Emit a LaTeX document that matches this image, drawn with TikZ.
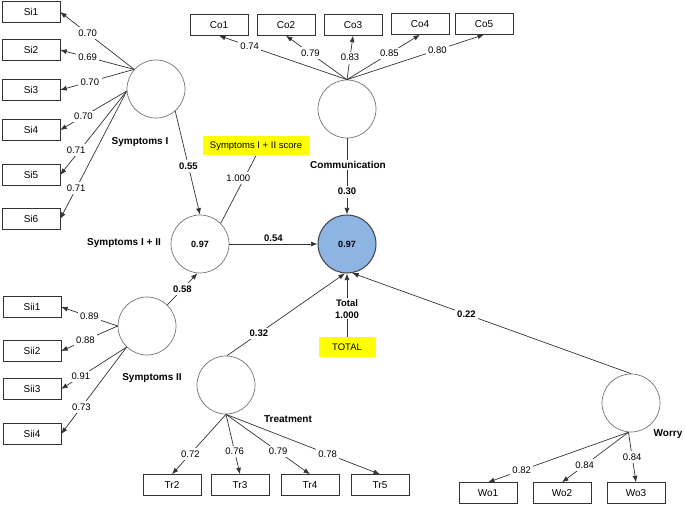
\documentclass[tikz,border=0pt]{standalone}
\usepackage{fontspec}
\setmainfont{Liberation Sans}
\usetikzlibrary{arrows.meta}
\definecolor{total-blue}{HTML}{8DB4E2}
\definecolor{score-yellow}{HTML}{FFFF00}
\tikzset{
    obs-box/.style = {draw=black!80, fill=white, thin, rectangle, minimum width=58pt, minimum height=21pt, inner sep=0pt, font=\fontsize{10}{12}\selectfont},
    latent/.style = {draw=black!55, fill=white, line width=0.7pt, circle, minimum size=58pt, inner sep=0pt, font=\fontsize{9}{11}\selectfont\bfseries},
    latent-total/.style = {latent, draw=black!75, fill=total-blue, line width=1pt},
    score-box/.style = {fill=score-yellow, rectangle, inner sep=0pt, font=\fontsize{9.5}{11}\selectfont},
    latent-name/.style = {fill=white, inner sep=1pt, font=\fontsize{10}{12}\selectfont\bfseries},
    load/.style = {fill=white, inner sep=2.5pt, font=\fontsize{9.5}{11}\selectfont},
    path-coef/.style = {load, font=\fontsize{9.5}{11}\selectfont\bfseries},
    link/.style = {draw=black!80, line width=0.7pt, -{Latex[length=6.5pt,width=5pt]}},
    plain-link/.style = {draw=black!80, line width=0.7pt},
}

\begin{document}
\begin{tikzpicture}[x=1pt, y=-1pt]
\useasboundingbox (0,0) rectangle (685,505);

% observed indicators
\node[obs-box] (si1) at (31,12) {Si1};
\node[obs-box] (si2) at (31,50) {Si2};
\node[obs-box] (si3) at (31,90) {Si3};
\node[obs-box] (si4) at (31,130) {Si4};
\node[obs-box] (si5) at (31,175) {Si5};
\node[obs-box] (si6) at (31,219) {Si6};
\node[obs-box] (sii1) at (32,307) {Sii1};
\node[obs-box] (sii2) at (32,351) {Sii2};
\node[obs-box] (sii3) at (32,389) {Sii3};
\node[obs-box] (sii4) at (32,434) {Sii4};
\node[obs-box] (co1) at (219,25) {Co1};
\node[obs-box] (co2) at (286,25) {Co2};
\node[obs-box] (co3) at (353,25) {Co3};
\node[obs-box] (co4) at (420,24) {Co4};
\node[obs-box] (co5) at (484,24) {Co5};
\node[obs-box] (tr2) at (172,485) {Tr2};
\node[obs-box] (tr3) at (240,485) {Tr3};
\node[obs-box] (tr4) at (310,485) {Tr4};
\node[obs-box] (tr5) at (380,485) {Tr5};
\node[obs-box] (wo1) at (488,493) {Wo1};
\node[obs-box] (wo2) at (562,493) {Wo2};
\node[obs-box] (wo3) at (636,493) {Wo3};

% latent variables
\node[latent] (s1) at (156,89) {};
\node[latent] (s12) at (200,244) {0.97};
\node[latent] (s2) at (147,326) {};
\node[latent] (com) at (347,109) {};
\node[latent-total] (tot) at (347,244) {0.97};
\node[latent] (tr) at (226,385) {};
\node[latent] (wo) at (631,403) {};

% scores
\node[score-box, minimum width=106pt, minimum height=19pt] (score) at (256,146) {Symptoms I + II score};
\node[score-box, minimum width=57pt, minimum height=20pt] (total-score) at (347,347) {TOTAL};

% loadings
\draw[link] (s1.138) -- node[load, pos=0.63] {0.70} (si1.east);
\draw[link] (s1.138) -- node[load, pos=0.63] {0.69} (si2.east);
\draw[link] (s1.138) -- node[load, pos=0.6] {0.70} (si3.east);
\draw[link] (s1.184) -- node[load, pos=0.65] {0.70} (si4.east);
\draw[link] (s1.184) -- node[load, pos=0.7, xshift=-4pt] {0.71} (si5.east);
\draw[link] (s1.184) -- node[load, pos=0.76] {0.71} (si6.east);

\draw[link] (s2.west) -- node[load, pos=0.5] {0.89} (sii1.east);
\draw[link] (s2.west) -- node[load, pos=0.57] {0.88} (sii2.east);
\draw[link] (s2.226) -- node[load, pos=0.7] {0.91} (sii3.east);
\draw[link] (s2.226) -- node[load, pos=0.69] {0.73} (sii4.east);

\draw[link] (com.north) -- node[load, pos=0.76] {0.74} (co1.south);
\draw[link] (com.north) -- node[load, pos=0.6] {0.79} (co2.south);
\draw[link] (com.north) -- node[load, pos=0.5] {0.83} (co3.south);
\draw[link] (com.north) -- node[load, pos=0.58] {0.85} (co4.south);
\draw[link] (com.north) -- node[load, pos=0.66] {0.80} (co5.south);

\draw[link] (tr.south) -- node[load, pos=0.66] {0.72} (tr2.north);
\draw[link] (tr.south) -- node[load, pos=0.62] {0.76} (tr3.north);
\draw[link] (tr.south) -- node[load, pos=0.62] {0.79} (tr4.north);
\draw[link] (tr.south) -- node[load, pos=0.66] {0.78} (tr5.north);

\draw[link] (wo.265) -- node[load, pos=0.76] {0.82} (wo1.north);
\draw[link] (wo.265) -- node[load, pos=0.66] {0.84} (wo2.north);
\draw[link] (wo.265) -- node[load, pos=0.5] {0.84} (wo3.north);

% structural paths
\draw[link] (s1.-49) -- node[path-coef, pos=0.53] {0.55} (s12.north);
\draw[plain-link] (score.south) -- node[load, pos=0.33, xshift=-6pt] {1.000} (s12.45);
\draw[link] (s2.46) -- node[path-coef, pos=0.5] {0.58} (s12.265);
\draw[link] (s12.east) -- node[path-coef, above, fill=none] {0.54} (tot.west);
\draw[link] (com.south) -- node[path-coef, pos=0.7] {0.30} (tot.north);
\draw[link] (tr.88) -- node[path-coef, pos=0.27] {0.32} (tot.266);
\draw[link] (wo.north) -- node[path-coef, pos=0.59] {0.22} (tot.280);
\draw[link] (total-score.north) -- node[latent-name, align=center, font=\fontsize{9.5}{12}\selectfont\bfseries, pos=0.44] {Total\\1.000} (tot.south);

% latent names
\node[latent-name] (s1-name) at (140,142) {Symptoms I};
\node[latent-name] (s12-name) at (124,243) {Symptoms I + II};
\node[latent-name] (s2-name) at (152,378) {Symptoms II};
\node[latent-name] (com-name) at (348,165) {Communication};
\node[latent-name] (tr-name) at (288,419) {Treatment};
\node[latent-name] (wo-name) at (668,434) {Worry};
\end{tikzpicture}
\end{document}
